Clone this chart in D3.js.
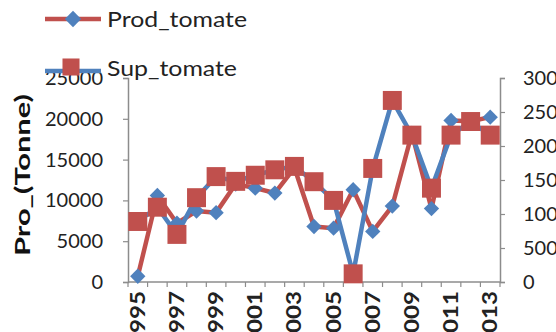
<!DOCTYPE html>
<html>
<head>
<meta charset="utf-8">
<script src="https://cdn.jsdelivr.net/npm/d3@7/dist/d3.min.js"></script>
<style>
  html, body { margin: 0; padding: 0; background: #fff; overflow: hidden; }
  svg { display: block; font-family: Lato, "Open Sans", sans-serif; }
</style>
</head>
<body>
<svg id="chart" width="556" height="332"></svg>
<script>
// Tomato production (tonnes, left axis) and area (right axis), 1995-2013
const years = [1995, 1996, 1997, 1998, 1999, 2000, 2001, 2002, 2003, 2004,
               2005, 2006, 2007, 2008, 2009, 2010, 2011, 2012, 2013];
const prodTomate = [700, 10600, 7200, 8700, 8500, 12000, 11500, 10900, 14000, 6800,
                    6600, 11300, 6200, 9300, 18200, 9000, 19800, 19700, 20200];
const supTomate = [890, 1100, 700, 1240, 1550, 1480, 1570, 1650, 1700, 1475,
                   1200, 120, 1670, 2670, 2160, 1380, 2160, 2360, 2160];
const leftTicks = [0, 5000, 10000, 15000, 20000, 25000];
const rightTicks = [0, 500, 1000, 1500, 2000, 2500, 3000];
const yearLabels = [1995, 1997, 1999, 2001, 2003, 2005, 2007, 2009, 2011, 2013];

const BLUE = "#4F81BD", RED = "#C0504D", AXIS = "#8c8c8c";
const svg = d3.select("#chart");

const x = d3.scaleBand().domain(years).range([128, 500]).padding(0);
const cx = d => x(d) + x.bandwidth() / 2;
const yL = d3.scaleLinear().domain([0, 25000]).range([282, 78]);
const yR = d3.scaleLinear().domain([0, 3000]).range([282, 78]);

// legend lines sit underneath the axis labels
const legend = svg.append("g");
legend.append("line").attr("x1", 45).attr("x2", 101).attr("y1", 19).attr("y2", 19)
  .attr("stroke", RED).attr("stroke-width", 4.5);
legend.append("line").attr("x1", 45).attr("x2", 101).attr("y1", 71).attr("y2", 71)
  .attr("stroke", BLUE).attr("stroke-width", 4.5);

// left axis
const gL = svg.append("g").attr("transform", "translate(128,0)")
  .call(d3.axisLeft(yL).tickValues(leftTicks).tickSize(5).tickPadding(20).tickFormat(d3.format("d")));
// right axis
const gR = svg.append("g").attr("transform", "translate(500,0)")
  .call(d3.axisRight(yR).tickValues(rightTicks).tickSize(5).tickPadding(18).tickFormat(d3.format("d")));
[gL, gR].forEach(g => {
  g.select(".domain").attr("stroke", AXIS).attr("stroke-width", 1.5);
  g.selectAll(".tick line").attr("stroke", AXIS).attr("stroke-width", 1.2);
  g.selectAll("text").attr("fill", "#222").attr("font-size", 20).attr("font-family", "Lato, sans-serif");
});

// category axis: ticks between years, labels on odd years
const gX = svg.append("g");
gX.append("line").attr("x1", 128).attr("x2", 500).attr("y1", 282).attr("y2", 282)
  .attr("stroke", AXIS).attr("stroke-width", 1.5);
const bounds = years.map(d => x(d)).concat([x(years[years.length - 1]) + x.bandwidth()]);
gX.selectAll("line.tk").data(bounds).join("line").attr("class", "tk")
  .attr("x1", d => d).attr("x2", d => d).attr("y1", 282).attr("y2", 287)
  .attr("stroke", AXIS).attr("stroke-width", 1.2);
gX.selectAll("text").data(yearLabels).join("text")
  .attr("transform", d => `translate(${cx(d) + 7},291) rotate(-90)`)
  .attr("text-anchor", "end").attr("font-size", 20).attr("font-weight", "bold")
  .attr("textLength", 56).attr("lengthAdjust", "spacingAndGlyphs")
  .attr("fill", "#222").text(d => d);

// axis title
svg.append("text").attr("transform", "translate(30,175) rotate(-90)")
  .attr("text-anchor", "middle").attr("font-size", 21).attr("font-weight", "bold")
  .attr("textLength", 162).attr("lengthAdjust", "spacingAndGlyphs")
  .attr("fill", "#111").text("Pro_(Tonne)");

const diamond = d3.symbol().type(d3.symbolDiamond2).size(150);
const square = d3.symbol().type(d3.symbolSquare).size(360);

// Prod_tomate series (left axis)
svg.append("path").datum(years.map((d, i) => [cx(d), yL(prodTomate[i])]))
  .attr("d", d3.line()).attr("fill", "none").attr("stroke", RED)
  .attr("stroke-width", 4.5).attr("stroke-linejoin", "round");
svg.append("g").selectAll("path").data(years).join("path")
  .attr("transform", (d, i) => `translate(${cx(d)},${yL(prodTomate[i])})`)
  .attr("d", diamond).attr("fill", BLUE);

// Sup_tomate series (right axis)
svg.append("path").datum(years.map((d, i) => [cx(d), yR(supTomate[i])]))
  .attr("d", d3.line()).attr("fill", "none").attr("stroke", BLUE)
  .attr("stroke-width", 4.5).attr("stroke-linejoin", "round");
svg.append("g").selectAll("path").data(years).join("path")
  .attr("transform", (d, i) => `translate(${cx(d)},${yR(supTomate[i])})`)
  .attr("d", square).attr("fill", RED);

// legend markers and labels
legend.raise();
legend.append("path").attr("transform", "translate(73,19)")
  .attr("d", d3.symbol().type(d3.symbolDiamond2).size(170)).attr("fill", BLUE);
legend.append("path").attr("transform", "translate(71,67)")
  .attr("d", d3.symbol().type(d3.symbolSquare).size(290)).attr("fill", RED);
legend.append("text").attr("x", 107).attr("y", 27).attr("font-size", 22)
  .attr("textLength", 140).attr("lengthAdjust", "spacingAndGlyphs")
  .attr("fill", "#222").text("Prod_tomate");
legend.append("text").attr("x", 107).attr("y", 76).attr("font-size", 22)
  .attr("textLength", 130).attr("lengthAdjust", "spacingAndGlyphs")
  .attr("fill", "#222").text("Sup_tomate");
</script>
</body>
</html>
